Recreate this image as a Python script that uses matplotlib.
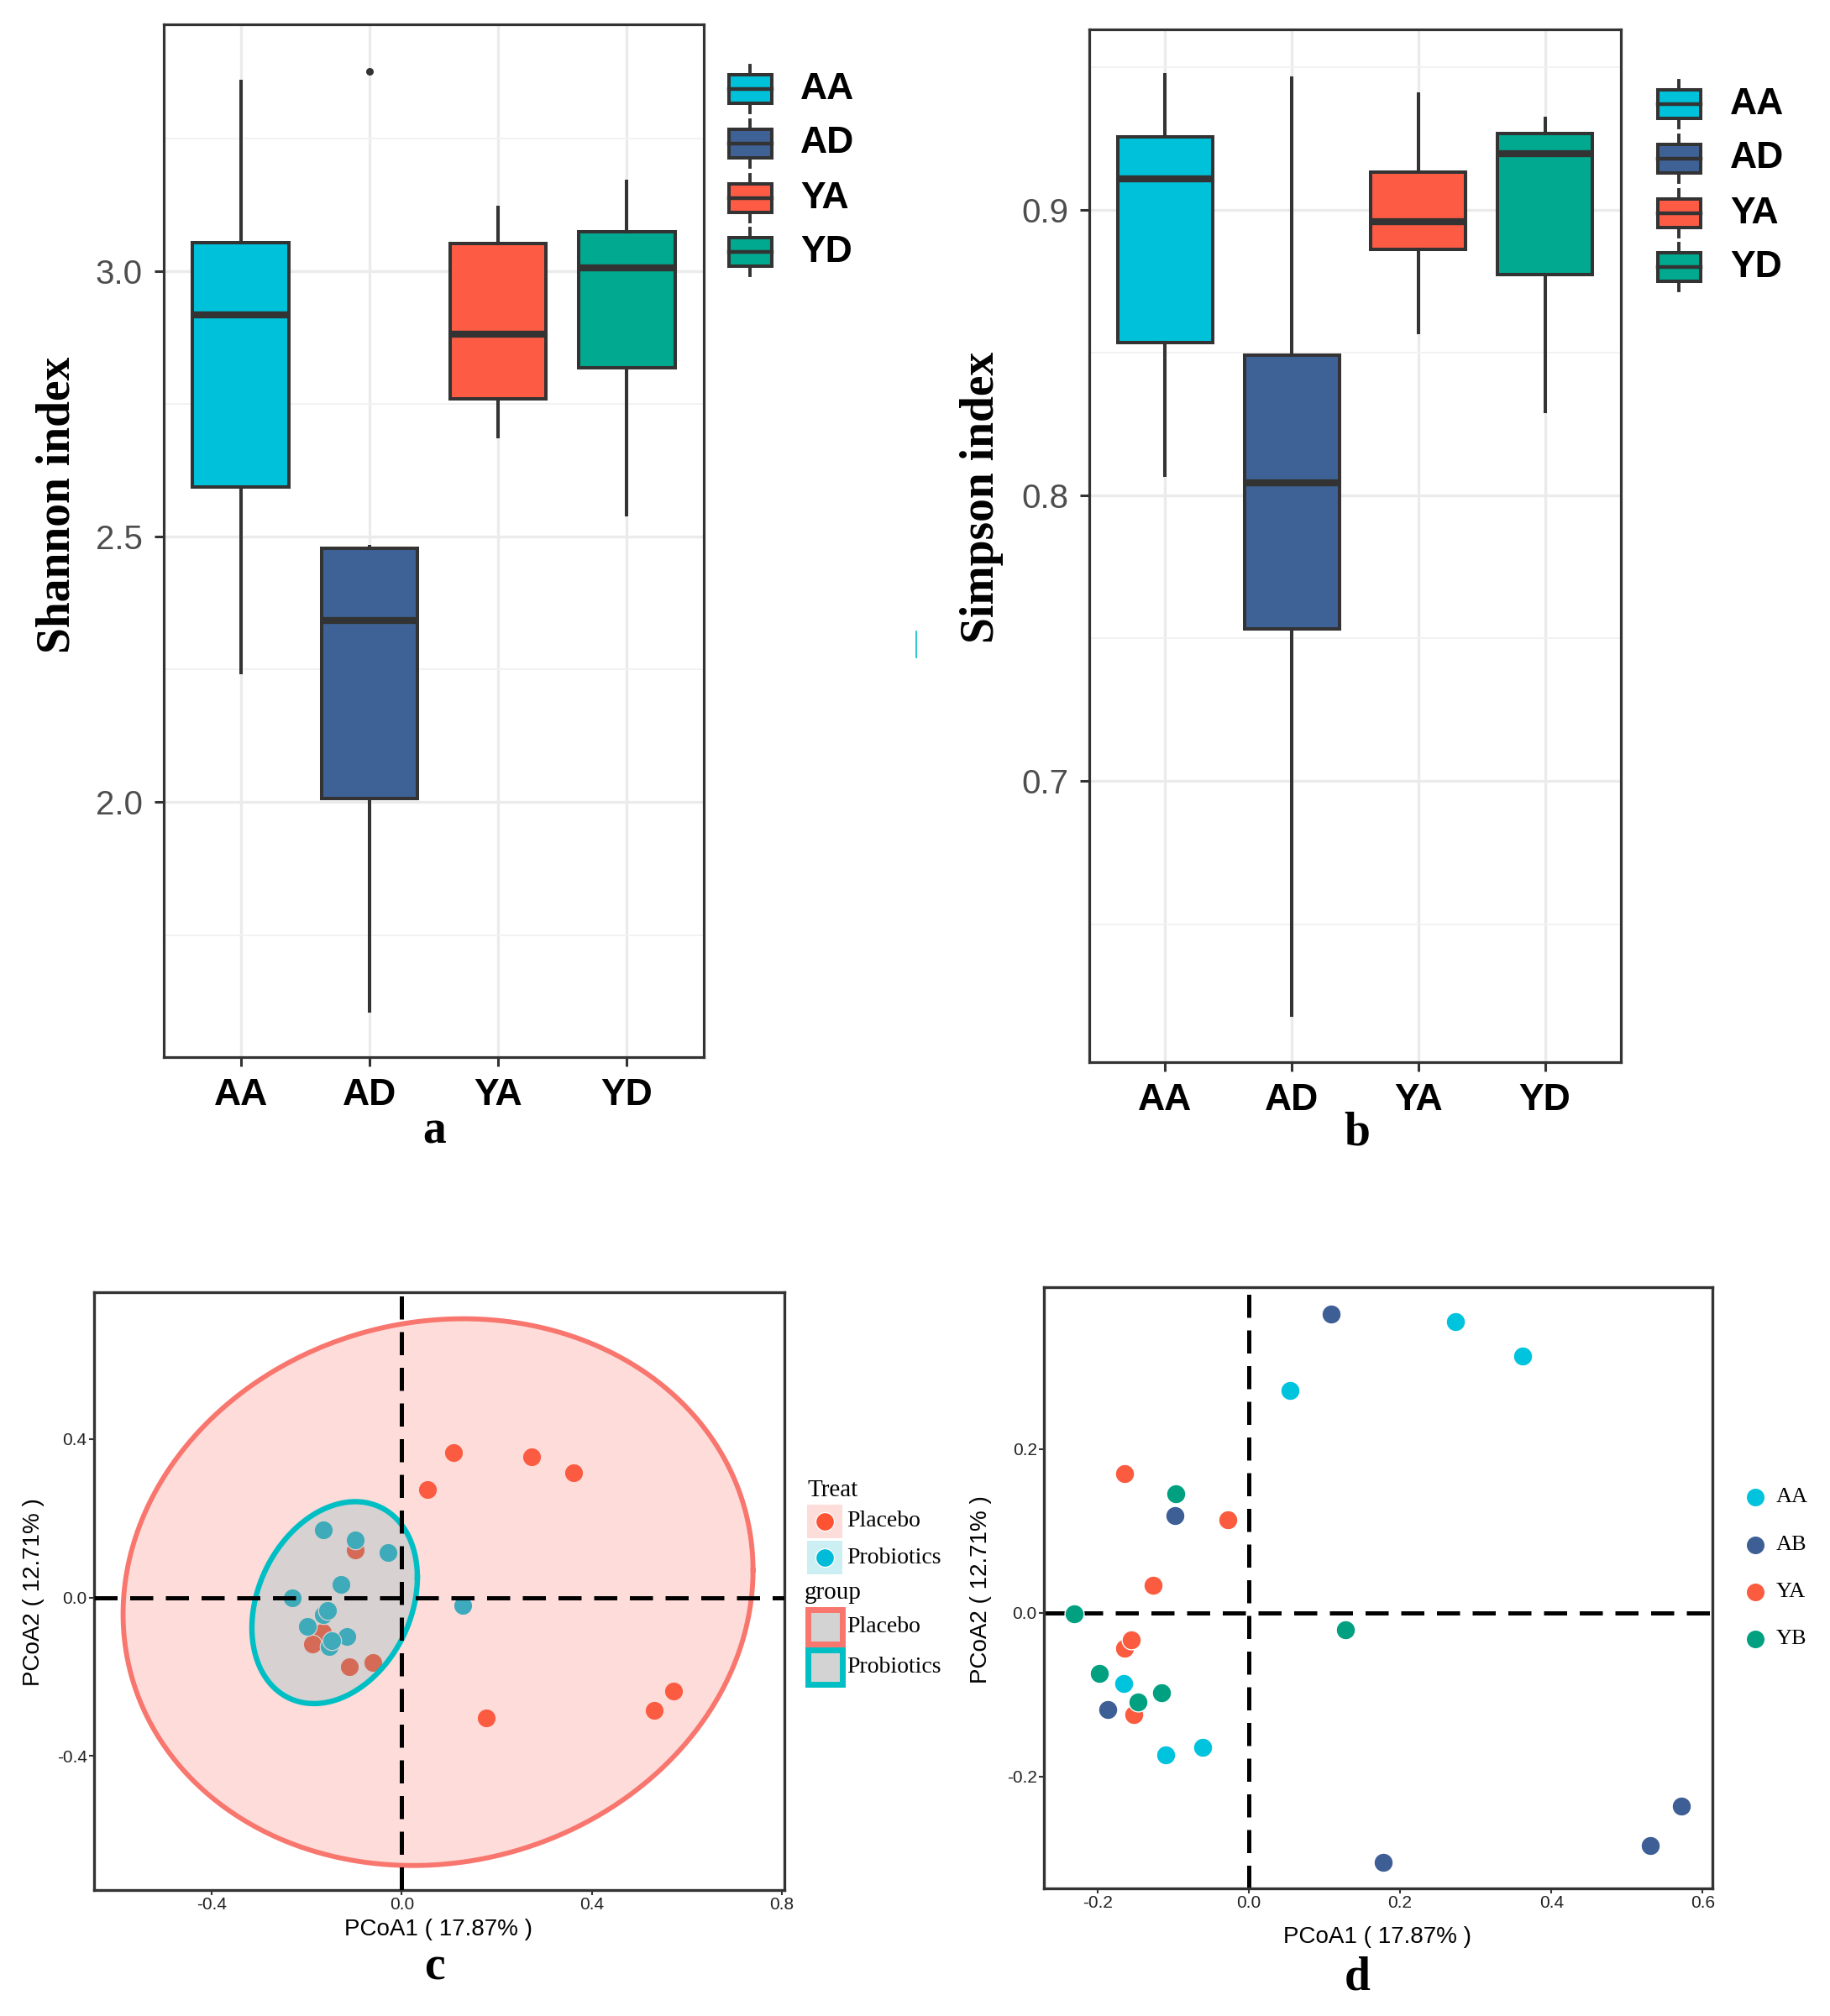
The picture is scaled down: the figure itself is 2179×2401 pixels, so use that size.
import numpy as np
import matplotlib.pyplot as plt
from matplotlib.patches import Rectangle

plt.rcParams['font.family'] = ['Liberation Sans', 'DejaVu Sans']
plt.rcParams['axes.unicode_minus'] = False
SERIF = ['Liberation Serif', 'DejaVu Serif']

# ---- alpha diversity (box statistics) ----
groups = ['AA', 'AD', 'YA', 'YD']
box_colors = ['#00C1DA', '#3F6296', '#FE5B45', '#00A98F']

shannon_lo = [2.244, 1.607, 2.689, 2.542]
shannon_q1 = [2.593, 2.007, 2.759, 2.818]
shannon_med = [2.918, 2.343, 2.882, 3.007]
shannon_q3 = [3.054, 2.479, 3.052, 3.074]
shannon_hi = [3.358, 2.482, 3.120, 3.170]
shannon_out = [[], [3.376], [], []]

simpson_lo = [0.8071, 0.6182, 0.8570, 0.8294]
simpson_q1 = [0.8534, 0.7533, 0.8860, 0.8772]
simpson_med = [0.9109, 0.8045, 0.8959, 0.9197]
simpson_q3 = [0.9256, 0.8490, 0.9132, 0.9267]
simpson_hi = [0.9473, 0.9460, 0.9406, 0.9320]
simpson_out = [[], [], [], []]

# ---- PCoA coordinates ----
pc_group = ['AA'] * 6 + ['AB'] * 6 + ['YA'] * 6 + ['YB'] * 6
pc1 = [0.054, 0.273, 0.362, -0.166, -0.110, -0.061,
       0.109, -0.098, -0.187, 0.178, 0.531, 0.572,
       -0.164, -0.028, -0.127, -0.164, -0.156, -0.152,
       -0.231, -0.097, 0.128, -0.198, -0.116, -0.147]
pc2 = [0.272, 0.356, 0.314, -0.087, -0.174, -0.165,
       0.365, 0.119, -0.118, -0.305, -0.285, -0.236,
       0.170, 0.114, 0.034, -0.043, -0.033, -0.125,
       -0.001, 0.145, -0.021, -0.074, -0.098, -0.109]
pc_groups = ['AA', 'AB', 'YA', 'YB']
pc_colors = ['#00C3DD', '#3E5E96', '#FB5B3F', '#00A080']

treats = ['Placebo', 'Probiotics']
treat_of = {'AA': 'Placebo', 'AB': 'Placebo', 'YA': 'Probiotics', 'YB': 'Probiotics'}
treat_colors = ['#FD5333', '#00BCD8']
ell_line = ['#F8766D', '#00BFC4']
ell_fill = ['#F8766D', '#00BFC4']
ell_alpha = [0.25, 0.2]
# ellipse: centre x, centre y, half-range x, half-range y, correlation
ell_cx = [0.0765, -0.141]
ell_cy = [0.0135, -0.013]
ell_rx = [0.6625, 0.174]
ell_ry = [0.6905, 0.255]
ell_rho = [0.08, 0.25]

W, H = 2179, 2401
fig = plt.figure(figsize=(W / 100, H / 100), dpi=100)


def rect(l, t, r, b):
    return [l / W, 1 - b / H, (r - l) / W, (b - t) / H]


def box_panel(ax, lo, q1, med, q3, hi, out, ylim, major, minor):
    stats = [dict(whislo=a, q1=b, med=c, q3=d, whishi=e, fliers=f)
             for a, b, c, d, e, f in zip(lo, q1, med, q3, hi, out)]
    bp = ax.bxp(stats, positions=range(1, 5), widths=0.75, patch_artist=True,
                showcaps=False,
                boxprops=dict(edgecolor='#333333', linewidth=2.9),
                medianprops=dict(color='#333333', linewidth=6, solid_capstyle='butt'),
                whiskerprops=dict(color='#333333', linewidth=2.9),
                flierprops=dict(marker='o', markersize=6.5, markerfacecolor='#333333',
                                markeredgecolor='none'))
    for patch, c in zip(bp['boxes'], box_colors):
        patch.set_facecolor(c)
    ax.set_xlim(0.4, 4.6)
    ax.set_ylim(*ylim)
    ax.set_xticks(range(1, 5))
    ax.set_xticklabels(groups, fontsize=32, fontweight='bold', color='black')
    ax.set_yticks(major)
    ax.set_yticks(minor, minor=True)
    ax.set_yticklabels([f'{v:.1f}' for v in major], fontsize=29, color='#4D4D4D')
    ax.set_axisbelow(True)
    ax.grid(which='major', color='#EBEBEB', linewidth=2.4)
    ax.yaxis.grid(True, which='minor', color='#F2F2F2', linewidth=1.4)
    ax.tick_params(which='major', length=8, width=2.2, color='#333333', pad=10)
    ax.tick_params(which='minor', length=0)
    for s in ax.spines.values():
        s.set_color('#333333')
        s.set_linewidth(2.3)


ax_a = fig.add_axes(rect(195, 29, 838, 1259))
box_panel(ax_a, shannon_lo, shannon_q1, shannon_med, shannon_q3, shannon_hi,
          shannon_out, (1.52, 3.465), [2.0, 2.5, 3.0], [1.75, 2.25, 2.75, 3.25])

ax_b = fig.add_axes(rect(1297, 35, 1930, 1265))
box_panel(ax_b, simpson_lo, simpson_q1, simpson_med, simpson_q3, simpson_hi,
          simpson_out, (0.6017, 0.9631), [0.7, 0.8, 0.9], [0.65, 0.75, 0.85, 0.95])


def pcoa_axes(ax, xlim, ylim, xt, yt):
    ax.set_xlim(*xlim)
    ax.set_ylim(*ylim)
    ax.set_xticks(xt)
    ax.set_xticklabels([f'{v:.1f}' for v in xt], fontsize=15, color='#222222')
    ax.set_yticks(yt)
    ax.set_yticklabels([f'{v:.1f}' for v in yt], fontsize=15, color='#222222')
    ax.tick_params(length=4, width=1.5, color='#333333', pad=2)
    for s in ax.spines.values():
        s.set_color('#333333')
        s.set_linewidth(2.4)


DASH = (5.5, 3.0)

# ---- panel c ----
ax_c = fig.add_axes(rect(112, 1539, 934, 2251))
pc1 = np.array(pc1)
pc2 = np.array(pc2)
tr = np.array([treat_of[g] for g in pc_group])
for k, t in enumerate(treats):
    m = tr == t
    ax_c.scatter(pc1[m], pc2[m], s=260, color=treat_colors[k], edgecolors='white',
                 linewidths=0.9, zorder=2)
tt = np.linspace(0, 2 * np.pi, 300)
for k in [1, 0]:
    ex = ell_cx[k] + ell_rx[k] * np.cos(tt)
    ey = ell_cy[k] + ell_ry[k] * np.cos(tt + np.arccos(ell_rho[k]))
    ax_c.fill(ex, ey, color=ell_fill[k], alpha=ell_alpha[k], lw=0, zorder=3)
for k in [0, 1]:
    ex = ell_cx[k] + ell_rx[k] * np.cos(tt)
    ey = ell_cy[k] + ell_ry[k] * np.cos(tt + np.arccos(ell_rho[k]))
    ax_c.plot(ex, ey, color=ell_line[k], lw=4.2 if k == 0 else 4.6, zorder=4)
ax_c.axhline(0, color='black', lw=3.6, dashes=DASH, zorder=5)
ax_c.axvline(0, color='black', lw=3.6, dashes=DASH, zorder=5)
pcoa_axes(ax_c, (-0.647, 0.805), (-0.739, 0.771), [-0.4, 0.0, 0.4, 0.8], [-0.4, 0.0, 0.4])

# ---- panel d ----
ax_d = fig.add_axes(rect(1243, 1533, 2039, 2249))
ax_d.axhline(0, color='black', lw=3.6, dashes=DASH, zorder=1)
ax_d.axvline(0, color='black', lw=3.6, dashes=DASH, zorder=1)
gg = np.array(pc_group)
for g, c in zip(pc_groups, pc_colors):
    m = gg == g
    ax_d.scatter(pc1[m], pc2[m], s=270, color=c, edgecolors='white', linewidths=1.0,
                 zorder=3)
pcoa_axes(ax_d, (-0.271, 0.613), (-0.337, 0.398), [-0.2, 0.0, 0.2, 0.4, 0.6],
          [-0.2, 0.0, 0.2])

# ---- overlay for labels and legends (pixel coordinates) ----
ov = fig.add_axes([0, 0, 1, 1], zorder=10)
ov.set_xlim(0, W)
ov.set_ylim(H, 0)
ov.axis('off')

ov.text(69, 601, 'Shannon index', rotation=90, ha='center', va='center',
        fontsize=40, fontweight='bold', family=SERIF)
ov.text(1169, 592, 'Simpson index', rotation=90, ha='center', va='center',
        fontsize=40, fontweight='bold', family=SERIF)
for txt, x, y in [('a', 517, 1347), ('b', 1616, 1350), ('c', 517, 2343), ('d', 1616, 2355)]:
    ov.text(x, y, txt, ha='center', va='center', fontsize=40, fontweight='bold',
            family=SERIF)
ov.text(522, 2298, 'PCoA1 ( 17.87% )', ha='center', va='center', fontsize=20)
ov.text(1640, 2307, 'PCoA1 ( 17.87% )', ha='center', va='center', fontsize=20)
ov.text(40, 1896, 'PCoA2 ( 12.71% )', rotation=90, ha='center', va='center', fontsize=20)
ov.text(1168, 1893, 'PCoA2 ( 12.71% )', rotation=90, ha='center', va='center', fontsize=20)

# box legends
for kx, rows, lx in [(893, [106, 171, 236, 300], 953), (1999, [124, 189, 254, 318], 2060)]:
    for g, c, ky in zip(groups, box_colors, rows):
        ov.plot([kx, kx], [ky - 28, ky + 28], color='#333333', lw=2.8, zorder=1)
        ov.add_patch(Rectangle((kx - 25.5, ky - 17), 51, 34, facecolor=c,
                               edgecolor='#333333', lw=2.9, zorder=2))
        ov.plot([kx - 25.5, kx + 25.5], [ky, ky], color='#333333', lw=3.2, zorder=3)
        ov.text(lx, ky, g, ha='left', va='center', fontsize=32, fontweight='bold')

# panel c legends
ov.text(961, 1775, 'Treat', ha='left', va='center', fontsize=21, family=SERIF)
key_bg = ['#FDDDDA', '#CCEFF3']
for k, (t, ky) in enumerate(zip(treats, [1812, 1855])):
    ov.add_patch(Rectangle((961, ky - 20), 42, 40, facecolor=key_bg[k], edgecolor='none'))
    ov.scatter([982], [ky], s=250, color=treat_colors[k], edgecolors='white', linewidths=0.9)
    ov.text(1008, ky, t, ha='left', va='center', fontsize=20, family=SERIF)
ov.text(958, 1897, 'group', ha='left', va='center', fontsize=21, family=SERIF)
for k, (t, ky) in enumerate(zip(treats, [1937, 1985])):
    ov.add_patch(Rectangle((961.5, ky - 20.5), 41, 41, facecolor='#D3D3D3',
                           edgecolor=ell_line[k], lw=5))
    ov.text(1008, ky, t, ha='left', va='center', fontsize=20, family=SERIF)

# panel d legend
for g, c, ky in zip(pc_groups, pc_colors, [1783, 1840, 1896, 1952]):
    ov.scatter([2090], [ky], s=260, color=c, edgecolors='white', linewidths=1.0)
    ov.text(2115, ky, g, ha='left', va='center', fontsize=19, family=SERIF)

# stray mark in the source figure
ov.plot([1091, 1091], [752, 783], color='#00BFC4', lw=1.2)

fig.savefig('out.png', dpi=100)
